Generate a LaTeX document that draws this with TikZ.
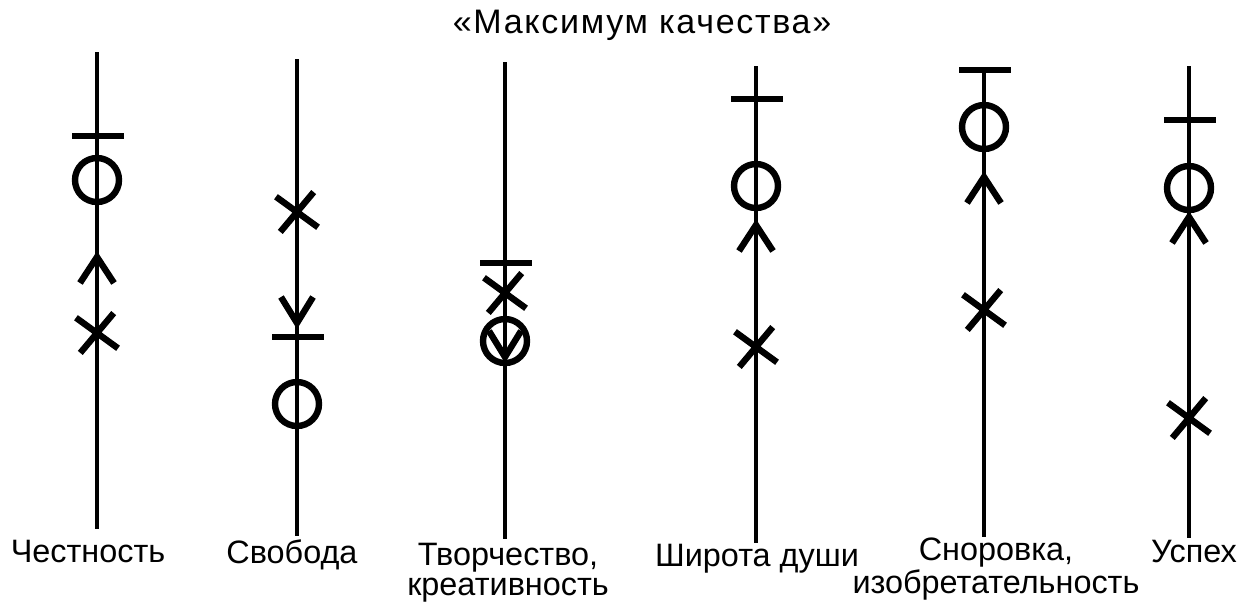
\documentclass[tikz,border=0pt]{standalone}
\usepackage{fontspec}
\setmainfont{Liberation Sans}
\newfontfamily\titlefont[LetterSpace=5]{Liberation Sans}

\begin{document}
\begin{tikzpicture}[x=0.5pt, y=-0.5pt,
		axis/.style={line width=2.4pt},
		sym/.style={line width=3.2pt},
		caption/.style={font=\fontsize{16.2}{15}\selectfont, anchor=base, align=center, inner sep=0pt}]
	\useasboundingbox (0,0) rectangle (1247,602);
	\node[anchor=base, inner sep=0pt, font=\titlefont\fontsize{17}{19}\selectfont] (title) at (642,33) {«Максимум качества»};
	% vertical scales: number/x/top/bottom
	\foreach \n/\x/\t/\b in {1/97/52/529, 2/297/59/536, 3/505/62/539, 4/756/66/543, 5/984/70/537, 6/1189/66/538} {
		\coordinate (T\n) at (\x,\t);
		\coordinate (B\n) at (\x,\b);
		\draw[axis] (T\n) -- (B\n);
	}
	\node[caption] (L1) at (88,562) {Честность};
	\node[caption] (L2) at (292,563) {Свобода};
	\node[caption] (L3) at (508,595) {Творчество,\\креативность};
	\node[caption] (L4) at (757,566) {Широта души};
	\node[caption] (L5) at (996,593) {Сноровка,\\изобретательность};
	\node[caption] (L6) at (1194,562) {Успех};
	% bars
	\foreach \x/\y in {97/136, 297/337, 505/263, 756/99, 984/70, 1189/120}
		\draw[sym] (\x,\y) +(-25,0) -- +(27,0);
	% circles
	\foreach \x/\y in {97/180, 297/404, 505/341, 756/186, 984/127, 1189/188}
		\draw[sym] (\x,\y) circle[radius=22];
	% crosses
	\foreach \x/\y in {97/333, 297/212, 505/293, 756/347, 984/310, 1189/418}
		\draw[sym] (\x,\y) +(216:26) -- +(36:26) (\x,\y) +(130:26) -- +(-50:26);
	% arrows up and down
	\foreach \x/\y in {97/257, 756/225, 984/177, 1189/217}
		\draw[sym] (\x,\y) +(-17,26) -- +(0,0) -- +(17,26);
	\foreach \x/\y in {297/323, 505/357}
		\draw[sym] (\x,\y) +(-16,-26) -- +(0,0) -- +(16,-26);
\end{tikzpicture}
\end{document}
